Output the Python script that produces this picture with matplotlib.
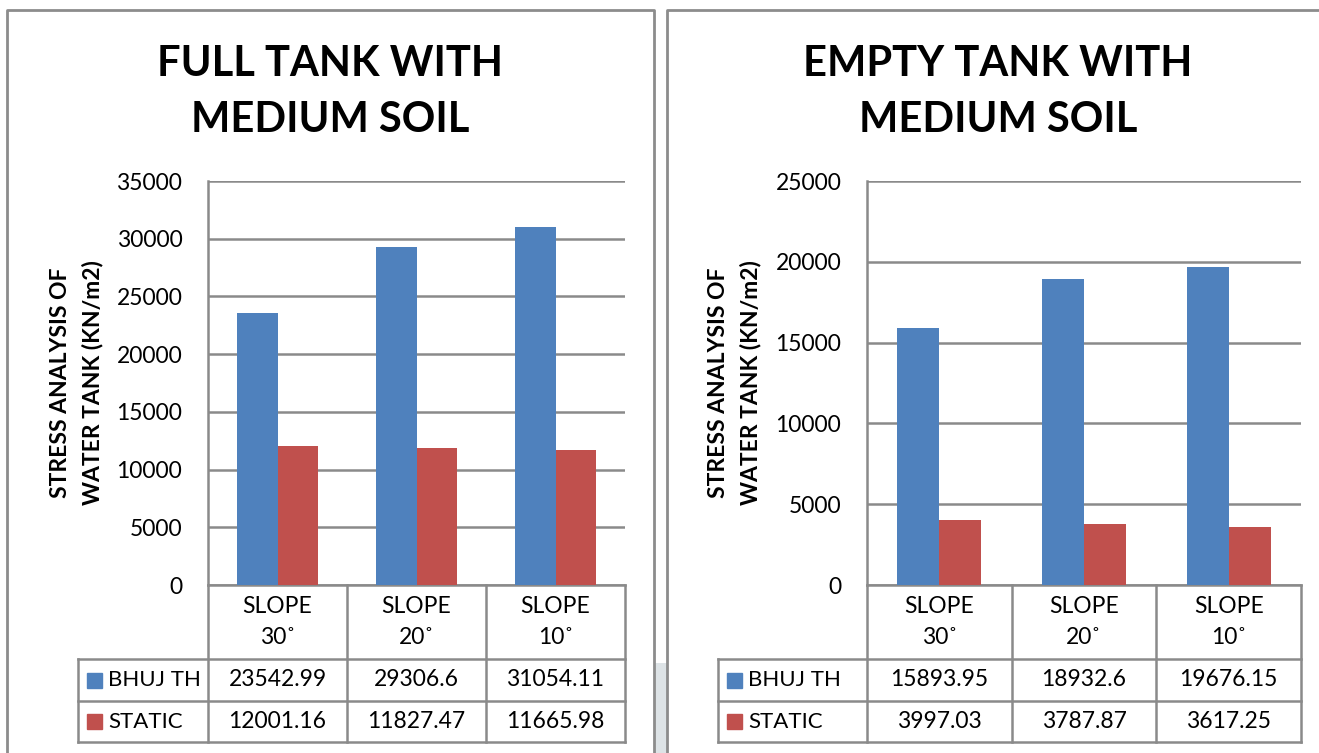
import numpy as np
import matplotlib
matplotlib.use("Agg")
import matplotlib.pyplot as plt
from matplotlib.patches import Rectangle

plt.rcParams['font.family'] = ['Lato', 'DejaVu Sans']

# data
slopes = ['SLOPE\n30˚', 'SLOPE\n20˚', 'SLOPE\n10˚']
series = ['BHUJ TH', 'STATIC']
colors = ['#4F81BD', '#C0504D']

full_bhuj = [23542.99, 29306.6, 31054.11]
full_static = [12001.16, 11827.47, 11665.98]
empty_bhuj = [15893.95, 18932.6, 19676.15]
empty_static = [3997.03, 3787.87, 3617.25]

W, H = 1319, 753
GRID = '#8a8a8a'
ylabel = 'STRESS ANALYSIS OF\nWATER TANK (KN/m2)'

fig = plt.figure(figsize=(W / 100, H / 100), dpi=100)

# page background in pixel units: panel frames and the gap strip
bg = fig.add_axes([0, 0, 1, 1], zorder=-5)
bg.set_xlim(0, W)
bg.set_ylim(H, 0)
bg.axis('off')
bg.add_patch(Rectangle((655, 663), 12, 100, color='#dde3e6', lw=0))
frame = dict(color='#8c8c8c', lw=2)
bg.plot([7, 7, 654, 654], [H + 5, 10, 10, H + 5], **frame)
bg.plot([667, 667, W + 5], [H + 5, 10, 10], **frame)


def draw_panel(title, bhuj, static, ymax, x0, x1, table_px, label_px, title_px):
    ax = fig.add_axes([x0 / W, 1 - 585 / H, (x1 - x0) / W, 404 / H])
    n = len(slopes)
    x = np.arange(n)
    bw = 0.29
    ax.bar(x - bw / 2, bhuj, bw, color=colors[0], zorder=3)
    ax.bar(x + bw / 2, static, bw, color=colors[1], zorder=3)
    ax.set_xlim(-0.5, n - 0.5)
    ax.set_ylim(0, ymax)
    ax.set_yticks(np.arange(0, ymax + 1, 5000))
    ax.yaxis.grid(True, color=GRID, lw=1.8)
    ax.set_axisbelow(True)
    ax.set_xticks([])
    ax.tick_params(axis='y', length=0, pad=18.5, labelsize=16.5)
    for s in ['top', 'right', 'bottom']:
        ax.spines[s].set_visible(False)
    ax.spines['left'].set_color(GRID)
    ax.spines['left'].set_linewidth(1.8)

    # data table under the plot
    ppd = (x1 - x0) / n  # pixels per category
    tl = -0.5 + (table_px - x0) / ppd
    h1, h2, h3 = -74 / 404, -116 / 404, -157 / 404
    tr = ax.get_xaxis_transform()
    line = dict(color=GRID, lw=1.8, transform=tr, clip_on=False)
    ax.plot([-0.5, n - 0.5], [0, 0], **line)
    for yy in (h1, h2, h3):
        ax.plot([tl, n - 0.5], [yy, yy], **line)
    for xb in np.arange(n + 1) - 0.5:
        ax.plot([xb, xb], [0, h3], **line)
    ax.plot([tl, tl], [h1, h3], **line)

    for i, s in enumerate(slopes):
        ax.text(i, h1 / 2, s, transform=tr, ha='center', va='center',
                fontsize=16.5, linespacing=1.6)
    rows = [bhuj, static]
    for r, vals in enumerate(rows):
        top = [h1, h2][r]
        bot = [h2, h3][r]
        yc = (top + bot) / 2
        ax.add_patch(Rectangle((tl + 9 / ppd, yc - 7.5 / 404), 15 / ppd, 15 / 404,
                               color=colors[r], transform=tr, clip_on=False))
        ax.text(tl + 30 / ppd, yc, series[r], transform=tr, ha='left',
                va='center', fontsize=16)
        for i, v in enumerate(vals):
            ax.text(i, yc, str(v), transform=tr, ha='center', va='center',
                    fontsize=16.5)

    fig.text(label_px / W, 1 - 383 / H, ylabel, rotation=90, ha='center',
             va='center', fontsize=16.5, fontweight='bold', linespacing=1.6,
             multialignment='center')
    fig.text(title_px / W, 1 - 92 / H, title, ha='center', va='center',
             fontsize=30, fontweight='bold', linespacing=1.6)
    return ax


draw_panel('FULL TANK WITH\nMEDIUM SOIL', full_bhuj, full_static, 35000,
           208, 625, 78, 77, 330)
draw_panel('EMPTY TANK WITH\nMEDIUM SOIL', empty_bhuj, empty_static, 25000,
           867, 1301, 718, 735, 998)

fig.savefig('out.png', dpi=100)
